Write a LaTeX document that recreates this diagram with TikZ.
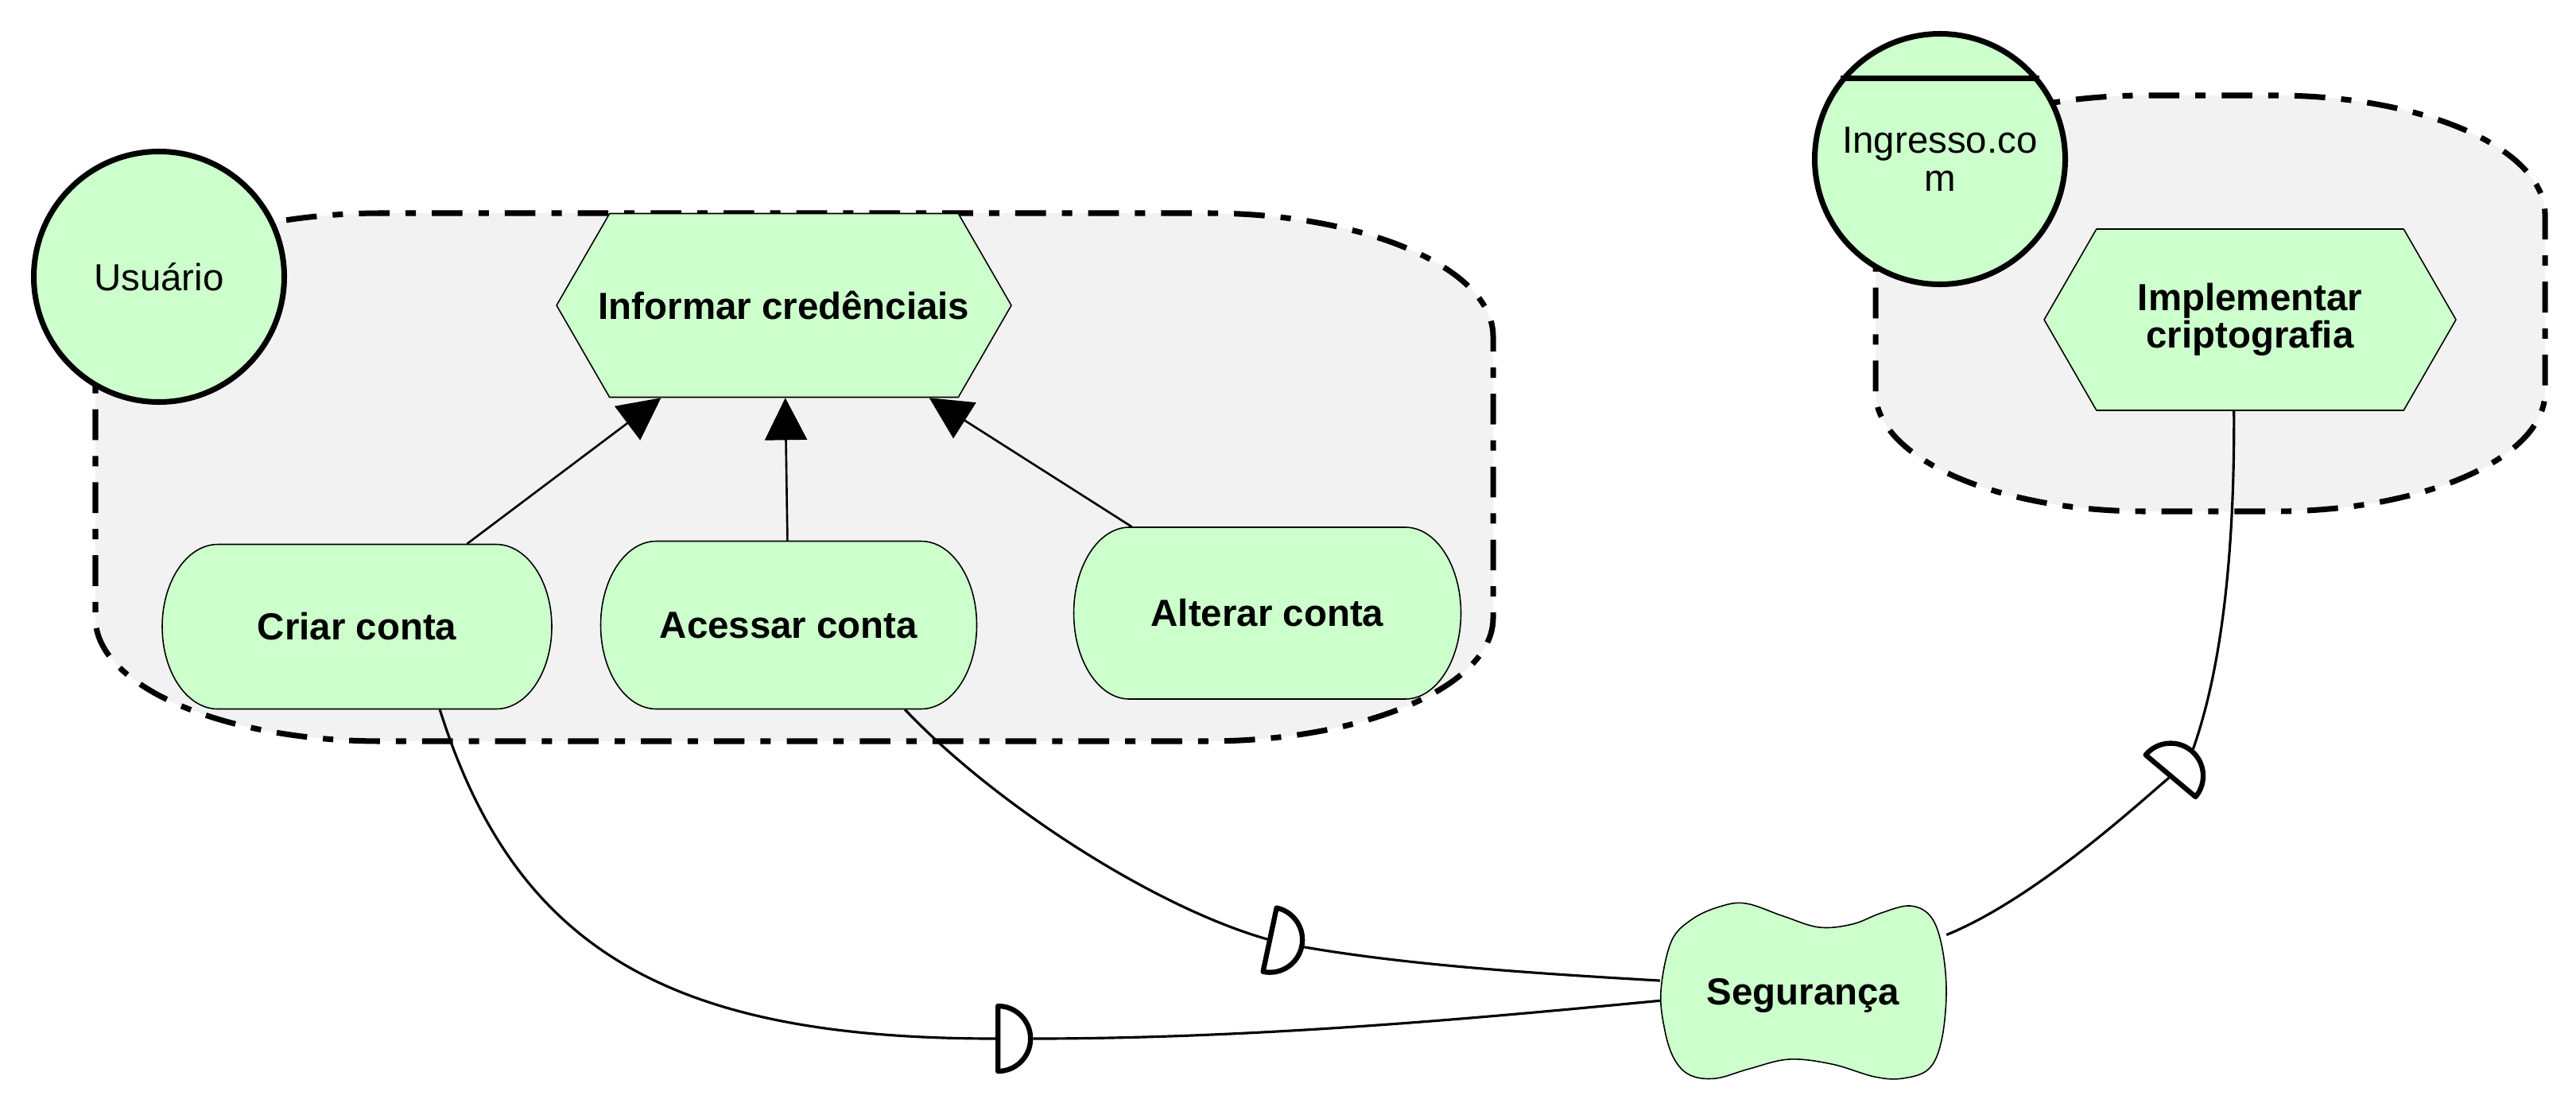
\documentclass[tikz,border=0pt]{standalone}
\usepackage{fontspec}
\setmainfont{Liberation Sans}
\usepackage{tikz}
\usetikzlibrary{shapes.geometric}
\usetikzlibrary{shapes.symbols}
\usetikzlibrary{arrows.meta}

\definecolor{elemgreen}{HTML}{CCFFCC}
\definecolor{boundgray}{HTML}{F2F2F2}

\begin{document}
\begin{tikzpicture}[line join=round,
        >={Triangle[length=0.53cm, width=0.53cm]},
        boundary/.style={fill=boundgray, line width=2pt, dash pattern=on 11pt off 5.7pt on 3.7pt off 5.7pt},
        actor/.style={shape=circle, draw, fill=elemgreen, line width=2pt, minimum size=3.15cm, inner sep=0pt, align=center, font=\fontsize{13.5}{13.5}\selectfont},
        task/.style={signal, signal to=west and east, signal pointer angle=120, draw, fill=elemgreen, line width=0.45pt, inner xsep=-0.3cm, inner ysep=0pt, align=center, font=\bfseries\fontsize{13.5}{13.5}\selectfont},
        goal/.style={inner sep=0pt, font=\bfseries\fontsize{13.5}{13.5}\selectfont},
        goalline/.style={draw, fill=elemgreen, line width=0.45pt},
        link/.style={line width=0.75pt},
        deplink/.style={line width=0.9pt},
        dep/.style={semicircle, draw, fill=white, line width=1.8pt, minimum width=0.82cm, inner sep=0pt, anchor=chord center}]
        \useasboundingbox (0,0) rectangle (32.40,13.96);
        % actor boundaries
        \foreach \xa/\xb/\ya/\yb/\rx/\ry in {1.20/18.78/4.64/11.28/3.6/1.55, 23.59/32.01/7.53/12.76/3.4/1.5}
            \draw[boundary] (\xa,\yb-\ry) -- (\xa,\ya+\ry) arc[start angle=180, end angle=270, x radius=\rx, y radius=\ry]
                -- (\xb-\rx,\ya) arc[start angle=270, end angle=360, x radius=\rx, y radius=\ry]
                -- (\xb,\yb-\ry) arc[start angle=0, end angle=90, x radius=\rx, y radius=\ry]
                -- (\xa+\rx,\yb) arc[start angle=90, end angle=180, x radius=\rx, y radius=\ry] -- cycle;
        \node (usuario) at (2.00,10.48) [actor] {Usuário};
        \node (ingresso) at (24.40,11.96) [actor] {Ingresso.co\\m};
        \draw[line width=2pt] (ingresso.141) -- (ingresso.39);
        \node (info) at (9.86,10.12) [task, minimum width=5.72cm, minimum height=2.31cm] {Informar credênciais};
        \node (impl) at (28.30,9.94) [task, minimum width=5.18cm, minimum height=2.28cm] {Implementar\\criptografia};
        % goals
        \foreach \n/\x/\y/\w/\h/\t in {criar/4.49/6.08/4.90/2.07/Criar conta,
                acessar/9.92/6.10/4.73/2.11/Acessar conta,
                alterar/15.94/6.25/4.87/2.16/Alterar conta}{
            \draw[goalline] (\x-\w/2+0.7,\y+\h/2) -- (\x+\w/2-0.7,\y+\h/2)
                arc[start angle=90, end angle=-90, x radius=0.7, y radius=\h/2]
                -- (\x-\w/2+0.7,\y-\h/2)
                arc[start angle=270, end angle=90, x radius=0.7, y radius=\h/2] -- cycle;
            \node (\n) at (\x,\y) [goal, minimum width=\w cm, minimum height=\h cm] {\t};
        }
        % softgoal
        \draw[goalline, shift={(22.68,1.50)}] plot[smooth cycle, tension=0.6] coordinates {
            (-1.79,0.00) (-1.66,0.62) (-1.40,0.90) (-1.05,1.06) (-0.72,1.10) (-0.25,0.94)
            (0.20,0.80) (0.62,0.84) (0.98,0.98) (1.34,1.07) (1.60,0.94) (1.74,0.58)
            (1.80,0.00) (1.74,-0.62) (1.58,-0.98) (1.25,-1.10) (0.90,-1.08) (0.36,-0.92)
            (-0.18,-0.86) (-0.68,-0.98) (-1.10,-1.10) (-1.42,-1.06) (-1.62,-0.86) (-1.74,-0.50)};
        \node (segur) at (22.68,1.44) [goal, minimum width=3.59cm, minimum height=2.10cm] {Segurança};
        % refinements
        \draw (criar) [->, link] -- (info);
        \draw (acessar) [->, link] -- (info);
        \draw (alterar) [->, link] -- (info);
        % dependencies
        \node (dcriar) at (12.52,0.90) [dep, rotate=-90] {};
        \node (dacc) at (15.94,2.15) [dep, rotate=-102] {};
        \node (dimpl) at (27.28,4.18) [dep, rotate=-40] {};
        \draw (criar.-45) [deplink] .. controls (6.50,1.96) and (8.50,0.90) .. (dcriar.chord center);
        \draw (dcriar.apex) [deplink] .. controls (16.00,0.90) and (19.00,1.20) .. (segur.182);
        \draw (acessar.-36) [deplink] .. controls (12.50,3.86) and (14.50,2.56) .. (dacc.chord center);
        \draw (dacc.apex) [deplink] .. controls (17.80,1.81) and (19.50,1.71) .. (segur.174);
        \draw (impl.-100) [deplink] .. controls (28.11,6.36) and (27.80,5.16) .. (dimpl.apex);
        \draw (dimpl.chord center) [deplink] .. controls (26.90,3.86) and (25.60,2.66) .. (segur.23);
    \end{tikzpicture}
\end{document}
